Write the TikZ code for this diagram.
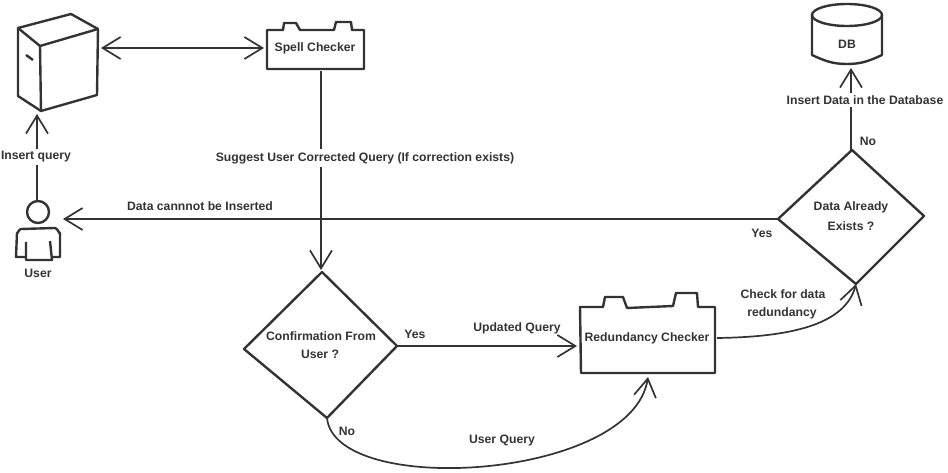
\documentclass[tikz,border=0pt]{standalone}
\usepackage{xcolor}
\usepackage{fontspec}
\usepackage{tikz}
\usetikzlibrary{arrows.meta}
\setmainfont{Liberation Sans}
\definecolor{inkgray}{HTML}{333333}
\tikzset{
    shapeline/.style={draw=inkgray, line width=2.4pt, line join=round},
    link/.style={draw=inkgray, line width=1.7pt},
    openhead/.style={-{Straight Barb[length=18pt,width=22pt,line width=1.7pt]}},
    twohead/.style={{Straight Barb[length=18pt,width=22pt,line width=1.7pt]}-{Straight Barb[length=18pt,width=22pt,line width=1.7pt]}},
    tag/.style={draw=none, text=inkgray, font=\bfseries\fontsize{12.2}{14}\selectfont, inner sep=1pt},
    cuttag/.style={tag, fill=white, inner sep=3pt}
}
\begin{document}
\begin{tikzpicture}[x=1pt, y=-1pt]
            \useasboundingbox (0, 0) rectangle (948, 473);

            \coordinate (serverRight) at (101, 48);
            \coordinate (serverBottom) at (37, 114);
            \coordinate (userTop) at (37, 201);
            \coordinate (userSide) at (63, 218);
            \coordinate (spellLeft) at (264, 48);
            \coordinate (spellBottom) at (321, 71);
            \coordinate (confirmTop) at (321, 270);
            \coordinate (confirmRight) at (397, 346);
            \coordinate (confirmBottom) at (327, 418);
            \coordinate (confirmLeft) at (244, 349);
            \coordinate (redundancyLeft) at (577, 346);
            \coordinate (redundancyRight) at (717, 338);
            \coordinate (redundancyBottom) at (648, 377);
            \coordinate (dataTop) at (852, 150);
            \coordinate (dataRight) at (924, 216);
            \coordinate (dataBottom) at (856, 284);
            \coordinate (dataLeft) at (778, 219);
            \coordinate (dbBottom) at (851, 68);

            % server box
            \draw[shapeline] (18, 28) -- (71, 14) -- (98, 29) -- (40, 46) -- cycle;
            \draw[shapeline] (18, 28) -- (18, 96) -- (41, 111) -- (97, 95) -- (98, 29);
            \draw[shapeline] (40, 46) -- (41, 111);
            \draw[shapeline] (26, 55) -- (33, 60);

            % user figure
            \draw[shapeline] (38, 212) circle (11);
            \draw[shapeline] (26, 257) -- (16, 257) -- (17, 233) to[out=-90, in=180] (21, 229) -- (55, 228) to[out=0, in=-90] (60, 233) -- (60, 257) -- (52, 257);
            \draw[shapeline] (26, 242) -- (26, 260) -- (52, 260) -- (50, 241);
            \node[tag] (userName) at (38, 273) {User};

            % the two checkers
            \draw[shapeline] (267, 30) -- (283, 30) -- (284, 23) -- (296, 23) -- (300, 30) -- (334, 30) -- (336, 22) -- (351, 22) -- (352, 30) -- (364, 30) -- (364, 69) -- (267, 69) -- cycle;
            \node[tag] (spell) at (315, 48) {Spell Checker};

            \draw[shapeline] (580, 307) -- (603, 307) -- (605, 297) -- (623, 297) -- (627, 308) -- (673, 306) -- (676, 293) -- (697, 293) -- (698, 307) -- (715, 307) -- (715, 373) -- (581, 373) -- cycle;
            \node[tag] (redundancy) at (647, 338) {Redundancy Checker};

            % decisions
            \draw[shapeline] (confirmTop) ++(1, 2) -- (confirmRight) -- (confirmBottom) -- (confirmLeft) -- cycle;
            \node[tag, align=center] (confirmOne) at (321, 336) {Confirmation From};
            \node[tag] (confirmTwo) at (320, 354) {User ?};

            \draw[shapeline] (dataTop) -- (dataRight) -- (dataBottom) -- (dataLeft) -- cycle;
            \node[tag] (dataOne) at (851, 207) {Data Already};
            \node[tag] (dataTwo) at (851, 226) {Exists ?};

            % database
            \draw[shapeline] (812, 15) -- (812, 55) to[out=-25, in=180] (847, 64) to[out=0, in=-155] (882, 55) -- (882, 15);
            \draw[shapeline] (847, 15) ellipse (35 and 11);
            \node[tag] (db) at (847, 44) {DB};

            % connectors
            \draw[link, twohead] (serverRight) -- (spellLeft);
            \draw[link, openhead] (userTop) -- (serverBottom);
            \draw[link, openhead] (spellBottom) -- (confirmTop);
            \draw[link, openhead] (dataLeft) -- (userSide |- dataLeft);
            \draw[link, openhead] (confirmRight) -- (redundancyLeft);
            \draw[link, openhead] (confirmBottom) .. controls (335, 498) and (632, 480) .. (redundancyBottom);
            \draw[link, openhead] (redundancyRight) .. controls (790, 337) and (845, 325) .. (dataBottom);
            \draw[link, openhead] (dataTop -| dbBottom) -- (dbBottom);

            % labels on and next to the connectors
            \node[cuttag] (insertQuery) at (36, 157) {Insert query};
            \node[cuttag] (suggest) at (365, 158) {Suggest User Corrected Query (If correction exists)};
            \node[cuttag] (insertData) at (865, 100) {Insert Data in the Database};
            \node[tag] (cannot) at (200, 206) {Data cannnot be Inserted};
            \node[tag] (yesData) at (762, 233) {Yes};
            \node[tag] (noData) at (868, 141) {No};
            \node[tag] (yesConfirm) at (415, 334) {Yes};
            \node[tag] (updated) at (517, 328) {Updated Query};
            \node[tag] (noConfirm) at (347, 431) {No};
            \node[tag] (userQuery) at (502, 441) {User Query};
            \node[tag] (checkOne) at (783, 294) {Check for data};
            \node[tag] (checkTwo) at (782, 313) {redundancy};

            \end{tikzpicture}
\end{document}
